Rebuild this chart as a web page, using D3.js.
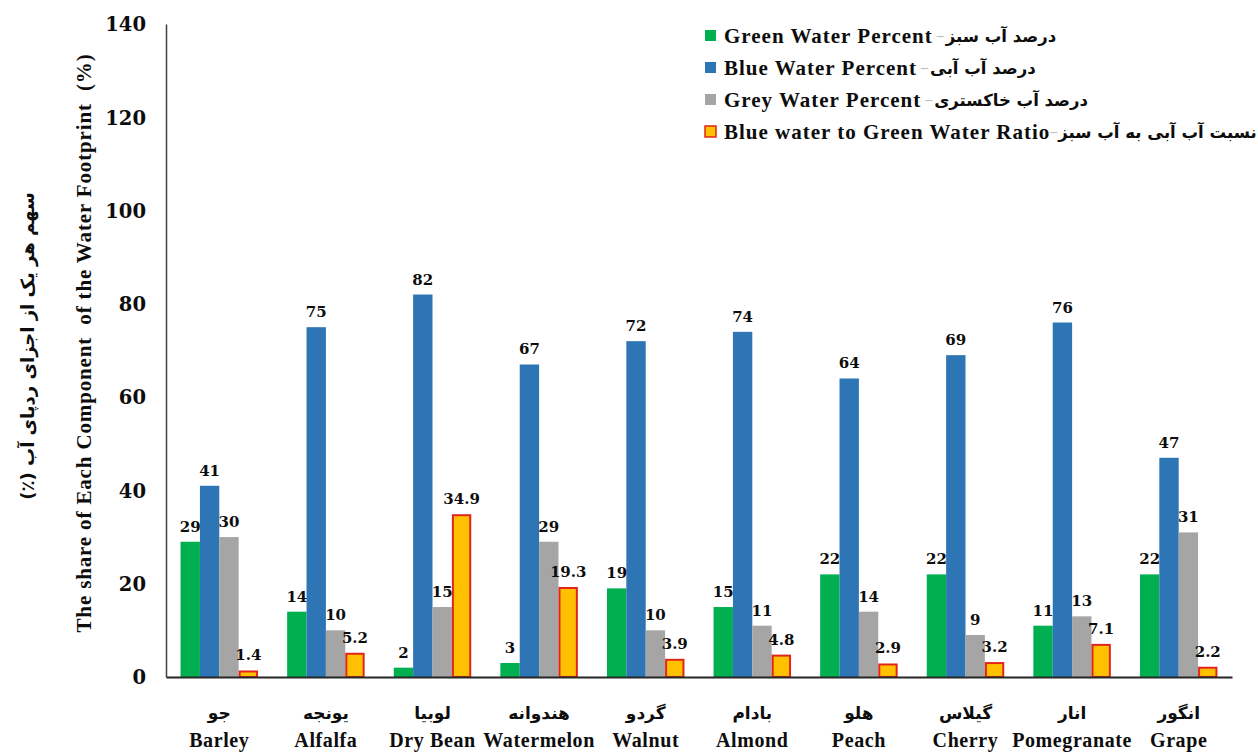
<!DOCTYPE html>
<html>
<head>
<meta charset="utf-8">
<script src="https://cdn.jsdelivr.net/npm/d3@7"></script>
<style>
  html, body { margin: 0; padding: 0; background: #ffffff; }
  svg { display: block; }
  .en { font-family: "Liberation Serif", "Times New Roman", serif; font-weight: bold; fill: #0d0d0d; }
  .fa { font-family: "DejaVu Sans", sans-serif; font-weight: bold; fill: #0d0d0d; }
  .num { font-family: "DejaVu Serif", serif; font-weight: bold; fill: #0d0d0d; }
</style>
</head>
<body>
<svg id="chart" width="1258" height="753"></svg>
<script>
// Crops (English / Persian names)
const cropsEn = ["Barley", "Alfalfa", "Dry Bean", "Watermelon", "Walnut", "Almond", "Peach", "Cherry", "Pomegranate", "Grape"];
const cropsFa = ["جو", "یونجه", "لوبیا", "هندوانه", "گردو", "بادام", "هلو", "گیلاس", "انار", "انگور"];

// Share of each water footprint component (%) and blue/green ratio
const greenWater = [29, 14, 2, 3, 19, 15, 22, 22, 11, 22];
const blueWater  = [41, 75, 82, 67, 72, 74, 64, 69, 76, 47];
const greyWater  = [30, 10, 15, 29, 10, 11, 14, 9, 13, 31];
const blueGreenRatio = [1.4, 5.2, 34.9, 19.3, 3.9, 4.8, 2.9, 3.2, 7.1, 2.2];

const seriesKeys = ["green", "blue", "grey", "ratio"];
const seriesEn = ["Green Water Percent", "Blue Water Percent", "Grey Water Percent", "Blue water to Green Water Ratio"];
const seriesFa = ["درصد آب سبز", "درصد آب آبی", "درصد آب خاکستری", "نسبت آب آبی به آب سبز"];
const seriesFill = ["#00b050", "#2e75b6", "#a5a5a5", "#ffc000"];
const seriesStroke = ["none", "none", "none", "#e0261b"];

const yTicks = [0, 20, 40, 60, 80, 100, 120, 140];

const rows = cropsEn.map((c, i) => ({
  crop: c,
  values: [greenWater[i], blueWater[i], greyWater[i], blueGreenRatio[i]]
}));

const svg = d3.select("#chart");
const m = { left: 166, right: 1232, top: 24, bottom: 677 };

const x0 = d3.scaleBand().domain(cropsEn).range([m.left, m.right]).paddingInner(0.273).paddingOuter(0.1365);
const x1 = d3.scaleBand().domain(seriesKeys).range([0, x0.bandwidth()]);
const y = d3.scaleLinear().domain([0, 140]).range([m.bottom, m.top]);

// Y axis: line plus labels, no tick marks
const yAxis = d3.axisLeft(y).tickValues(yTicks).tickSize(0).tickPadding(20);
const yg = svg.append("g").attr("transform", `translate(${m.left},0)`).call(yAxis);
yg.select(".domain").attr("stroke", "#404040").attr("stroke-width", 1.5);
yg.selectAll("text").attr("class", "num").attr("font-size", 19.5).attr("dy", "0.35em");

// Bars
const groups = svg.append("g").selectAll("g").data(rows).join("g")
  .attr("transform", d => `translate(${x0(d.crop)},0)`);

groups.selectAll("rect").data(d => d.values.map((v, k) => ({ key: seriesKeys[k], k, v })))
  .join("rect")
  .attr("x", d => x1(d.key) + (d.k === 3 ? 1 : 0))
  .attr("width", d => x1.bandwidth() - (d.k === 3 ? 2 : 0))
  .attr("y", d => y(d.v) + (d.k === 3 ? 1 : 0))
  .attr("height", d => y(0) - y(d.v) - (d.k === 3 ? 1 : 0))
  .attr("fill", d => seriesFill[d.k])
  .attr("stroke", d => seriesStroke[d.k])
  .attr("stroke-width", 2);

// Value labels
groups.selectAll("text.val").data(d => d.values.map((v, k) => ({ key: seriesKeys[k], k, v })))
  .join("text")
  .attr("class", "num val")
  .attr("font-size", 15)
  .attr("text-anchor", "middle")
  .attr("x", d => x1(d.key) + x1.bandwidth() / 2)
  .attr("y", d => y(d.v) - 10)
  .text(d => d.v);

// X axis baseline
const xAxis = d3.axisBottom(x0).tickSize(0).tickFormat("");
const xg = svg.append("g").attr("transform", `translate(0,${m.bottom})`).call(xAxis);
xg.select(".domain").attr("stroke", "#262626").attr("stroke-width", 2);

// Category labels (Persian above English)
const lab = svg.append("g");
cropsEn.forEach((c, i) => {
  const cx = x0(c) + x0.bandwidth() / 2;
  lab.append("text").attr("class", "fa").attr("font-size", 17).attr("text-anchor", "middle")
    .attr("x", cx).attr("y", 719).text(cropsFa[i]);
  lab.append("text").attr("class", "en").attr("font-size", 20).attr("letter-spacing", 0.6)
    .attr("text-anchor", "middle").attr("x", cx).attr("y", 747).text(c);
});

// Y axis titles
svg.append("text").attr("class", "en").attr("font-size", 21).attr("letter-spacing", 0.85)
  .attr("text-anchor", "middle")
  .attr("transform", "translate(91,343) rotate(-90)")
  .style("white-space", "pre")
  .text("The share of Each Component  of the Water Footprint  (%)");
svg.append("text").attr("class", "fa").attr("font-size", 18).attr("direction", "rtl")
  .attr("text-anchor", "middle")
  .attr("transform", "translate(34,346) rotate(-90)")
  .text("سهم هر یک از اجزای ردپای آب (٪)");

// Legend
const leg = svg.append("g");
seriesKeys.forEach((k, i) => {
  const cy = 36 + i * 32;
  leg.append("rect").attr("x", 705).attr("y", cy - 6).attr("width", 11).attr("height", 11)
    .attr("fill", seriesFill[i]).attr("stroke", i === 3 ? seriesStroke[i] : "none").attr("stroke-width", 1.5);
  const t = leg.append("text").attr("class", "en").attr("font-size", 21).attr("letter-spacing", 1)
    .attr("x", 724).attr("y", cy + 7).text(seriesEn[i]);
  const w = t.node().getComputedTextLength();
  leg.append("text").attr("class", "en").attr("font-size", 14).style("fill", "#bfbfbf")
    .attr("x", 724 + w + (i === 3 ? 0 : 4)).attr("y", cy + 4).text("–");
  leg.append("text").attr("class", "fa").attr("font-size", 16.5).attr("text-anchor", "start")
    .attr("x", 724 + w + (i === 3 ? 8 : 13)).attr("y", cy + 6).text(seriesFa[i]);
});
</script>
</body>
</html>
